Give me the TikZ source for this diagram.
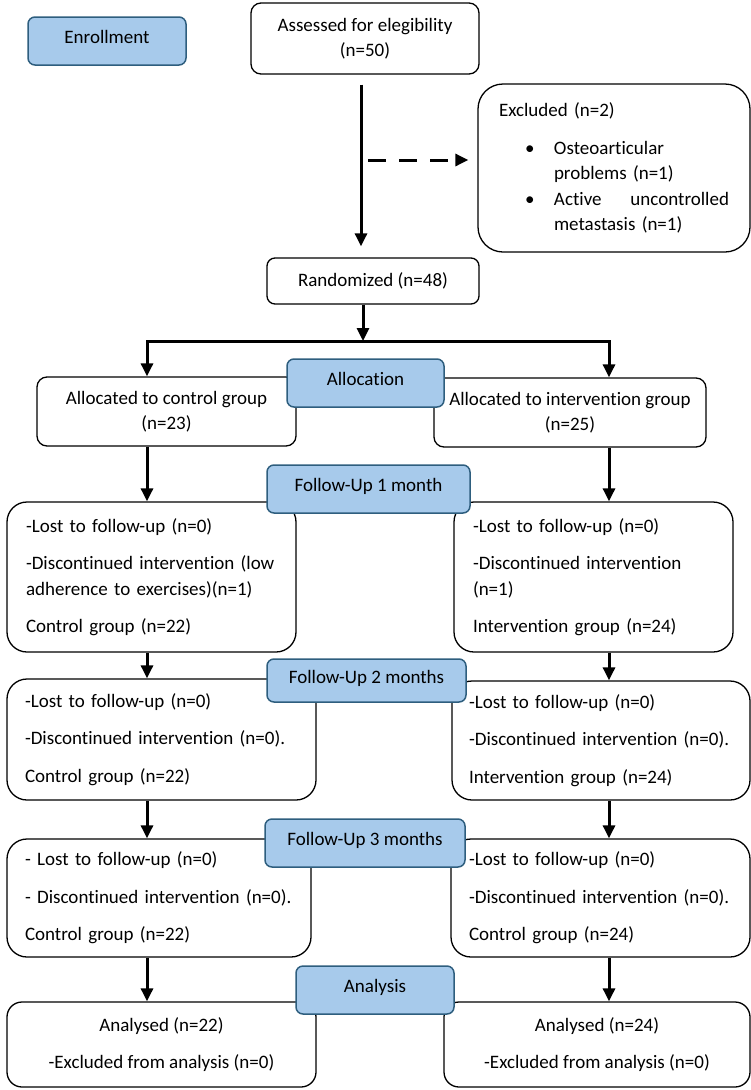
\documentclass[tikz,border=0pt]{standalone}
\usepackage{fontspec}
\setmainfont[Ligatures=NoCommon, Contextuals=NoAlternate]{Carlito}
\usetikzlibrary{arrows.meta}
\usepackage{xcolor}

\definecolor{stagefill}{HTML}{A7CAEB}
\definecolor{stageline}{HTML}{2E5E7E}

% bullet and hanging indent in the exclusion box
\newcommand{\exclbullet}{\hspace*{26pt}\makebox[29pt][l]{\textbullet}}
\newcommand{\exclindent}{\hspace*{55pt}}

\begin{document}
\begin{tikzpicture}[
    x=1pt, y=-1pt,
    font=\fontsize{19}{25.5}\selectfont,
    box/.style={draw, line width=1.3pt, fill=white, rounded corners=#1, inner sep=0pt, align=center},
    box/.default=10pt,
    listbox/.style={box=20pt, align=left, inner xsep=18pt},
    stage/.style={draw=stageline, fill=stagefill, line width=1.5pt, rounded corners=7pt, inner sep=0pt, text depth=8pt},
    arrow/.style={-{Triangle[length=13pt,width=12pt]}, line width=3pt},
    dasharrow/.style={arrow, dash pattern=on 18pt off 13pt}
]
\useasboundingbox (0,0) rectangle (751,1090);

% Enrollment
\node[stage, minimum width=158pt, minimum height=48pt] (enrol) at (107,41) {Enrollment};
\node[box, minimum width=228pt, minimum height=71pt] (assess) at (365,38.5) {Assessed for elegibility\\(n=50)};
\node[box=25pt, align=left, inner xsep=21pt, text width=230pt, minimum height=168pt] (excl) at (614,168) {Excluded (n=2)\\[12pt]
    \exclbullet Osteoarticular\\
    \exclindent problems (n=1)\\
    \exclbullet Active\hfill uncontrolled\\
    \exclindent metastasis (n=1)};
\node[box=8pt, minimum width=212pt, minimum height=46pt] (random) at (373,281) {Randomized (n=48)};

% Allocation
\node[box, minimum width=259pt, minimum height=69pt] (ctrlA) at (166.5,411.5) {Allocated to control group\\(n=23)};
\node[box, minimum width=272pt, minimum height=69pt] (intA) at (570,412.5) {Allocated to intervention group\\(n=25)};

% Follow-up
\node[listbox, inner xsep=19pt, text width=251pt, minimum height=150pt] (ctrlF1) at (151.5,577) {-Lost to follow-up (n=0)\\[12pt]
    -Discontinued intervention (low\\adherence to exercises)(n=1)\\[12pt]
    Control group (n=22)};
\node[listbox, inner xsep=19pt, text width=241pt, minimum height=150pt] (intF1) at (593.5,577) {-Lost to follow-up (n=0)\\[12pt]
    -Discontinued intervention\\(n=1)\\[12pt]
    Intervention group (n=24)};
\node[listbox, text width=273pt, minimum height=121pt] (ctrlF2) at (161.5,739.5) {-Lost to follow-up (n=0)\\[12pt]
    -Discontinued intervention (n=0).\\[12pt]
    Control group (n=22)};
\node[listbox, inner xsep=17pt, text width=264pt, minimum height=119pt] (intF2) at (601,740.5) {-Lost to follow-up (n=0)\\[12pt]
    -Discontinued intervention (n=0).\\[12pt]
    Intervention group (n=24)};
\node[listbox, text width=268pt, minimum height=118pt] (ctrlF3) at (159,898) {- Lost to follow-up (n=0)\\[12pt]
    - Discontinued intervention (n=0).\\[12pt]
    Control group (n=22)};
\node[listbox, text width=263pt, minimum height=118pt] (intF3) at (600.5,898) {-Lost to follow-up (n=0)\\[12pt]
    -Discontinued intervention (n=0).\\[12pt]
    Control group (n=24)};

% Analysis
\node[box=15pt, minimum width=309pt, minimum height=85pt] (ctrlEnd) at (161.5,1044.5) {Analysed (n=22)\\[12pt]-Excluded from analysis (n=0)};
\node[box=15pt, minimum width=306pt, minimum height=85pt] (intEnd) at (597,1044.5) {Analysed (n=24)\\[12pt]-Excluded from analysis (n=0)};

% Stage labels
\node[stage, minimum width=157pt, minimum height=48pt] (alloc) at (365.5,383) {Allocation};
\node[stage, minimum width=203pt, minimum height=48pt] (fu1) at (368.5,489) {Follow-Up 1 month};
\node[stage, minimum width=199pt, minimum height=43pt] (fu2) at (366.5,680.5) {Follow-Up 2 months};
\node[stage, minimum width=200pt, minimum height=48pt] (fu3) at (365,843) {Follow-Up 3 months};
\node[stage, minimum width=158pt, minimum height=48pt] (ana) at (375,990) {Analysis};

% Arrows
\coordinate (split) at (363,341);
\coordinate (lcol) at (147,341);
\coordinate (rcol) at (609,341);
\draw[arrow, shorten <=10pt, shorten >=11pt] ([xshift=-4pt]assess.south) -- ([xshift=-4pt]assess.south |- random.north);
\draw[dasharrow] ([xshift=-109pt,yshift=8pt]excl.west) -- ([xshift=-9pt,yshift=8pt]excl.west);
\draw[arrow] (random.south -| split) -- (split);
\draw[arrow] (split) -| (lcol |- ctrlA.north);
\draw[arrow] (split) -| (rcol |- intA.north);
\draw[arrow] (lcol |- ctrlA.south) -- (lcol |- ctrlF1.north);
\draw[arrow] (rcol |- intA.south) -- (rcol |- intF1.north);
\draw[arrow] (lcol |- ctrlF1.south) -- (lcol |- ctrlF2.north);
\draw[arrow] (rcol |- intF1.south) -- (rcol |- intF2.north);
\draw[arrow] (lcol |- ctrlF2.south) -- (lcol |- ctrlF3.north);
\draw[arrow] (rcol |- intF2.south) -- (rcol |- intF3.north);
\draw[arrow] (lcol |- ctrlF3.south) -- (lcol |- ctrlEnd.north);
\draw[arrow] (rcol |- intF3.south) -- (rcol |- intEnd.north);

\end{tikzpicture}
\end{document}
